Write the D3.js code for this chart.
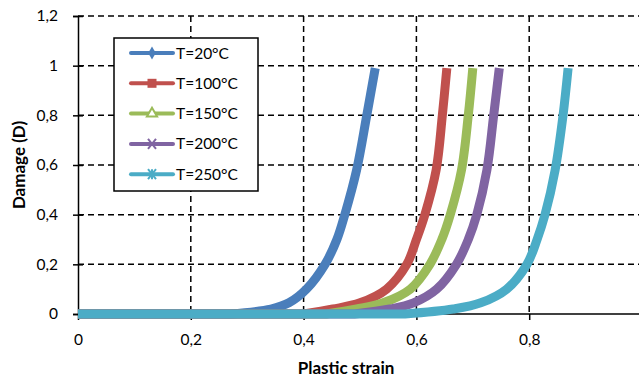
<!DOCTYPE html>
<html>
<head>
<meta charset="utf-8">
<script src="https://cdn.jsdelivr.net/npm/d3@7"></script>
<style>
  body { margin: 0; background: #fff; }
  svg text { font-family: Lato, "Open Sans", sans-serif; fill: #000; }
</style>
</head>
<body>
<div id="chart"></div>
<script>
// damage levels shared by every curve, strain read for each temperature
var damageLevels = [0, 0, 0.02, 0.045, 0.1, 0.2, 0.3, 0.4, 0.58, 0.8, 0.99]
var strain20  = [0, 0.27, 0.342, 0.374, 0.405, 0.438, 0.459, 0.473, 0.494, 0.512, 0.527]
var strain100 = [0, 0.40, 0.452, 0.500, 0.547, 0.583, 0.600, 0.615, 0.635, 0.646, 0.654]
var strain150 = [0, 0.44, 0.494, 0.541, 0.589, 0.624, 0.645, 0.660, 0.680, 0.692, 0.700]
var strain200 = [0, 0.49, 0.553, 0.595, 0.636, 0.671, 0.692, 0.707, 0.725, 0.737, 0.747]
var strain250 = [0, 0.58, 0.665, 0.714, 0.760, 0.796, 0.814, 0.828, 0.846, 0.860, 0.869]

var seriesNames = ["T=20°C", "T=100°C", "T=150°C", "T=200°C", "T=250°C"]
var seriesColors = ["#4a7ebb", "#c0504d", "#9bbb59", "#8064a2", "#4bacc6"]
var seriesMarkers = ["diamond", "square", "triangle", "x", "star"]
var strains = [strain20, strain100, strain150, strain200, strain250]

var xTicks = [0, 0.2, 0.4, 0.6, 0.8]
var yTicks = [0, 0.2, 0.4, 0.6, 0.8, 1, 1.2]

var width = 639, height = 379

var svg = d3.select("#chart").append("svg")
  .attr("width", width).attr("height", height)

var x = d3.scaleLinear().domain([0, 1]).range([78, 642])
var y = d3.scaleLinear().domain([0, 1.2]).range([314, 16])

var fmt = function(d){ return String(d).replace(".", ",") }

// grid (dashed)
svg.append("g").selectAll("line")
  .data(yTicks.filter(function(d){ return d > 0 }))
  .enter().append("line")
  .attr("x1", x(0)).attr("x2", width)
  .attr("y1", function(d){ return y(d) }).attr("y2", function(d){ return y(d) })
  .attr("stroke", "#000").attr("stroke-width", 1.5).attr("stroke-dasharray", "6,4")

svg.append("g").selectAll("line")
  .data(xTicks.filter(function(d){ return d > 0 }))
  .enter().append("line")
  .attr("x1", function(d){ return x(d) }).attr("x2", function(d){ return x(d) })
  .attr("y1", y(1.2)).attr("y2", y(0))
  .attr("stroke", "#000").attr("stroke-width", 1.5).attr("stroke-dasharray", "6,4")

// axes
var xAxis = svg.append("g")
  .attr("transform", "translate(0," + y(0) + ")")
  .call(d3.axisBottom(x).tickValues(xTicks).tickFormat(fmt).tickSize(6).tickPadding(14))
xAxis.select(".domain").attr("d", "M" + x(0) + ",0H" + width).attr("stroke-width", 1.5)
xAxis.selectAll(".tick line").attr("stroke-width", 1.5)
xAxis.selectAll("text").attr("font-size", 15.5).attr("font-family", "Lato, sans-serif")

var yAxis = svg.append("g")
  .attr("transform", "translate(" + x(0) + ",0)")
  .call(d3.axisLeft(y).tickValues(yTicks).tickFormat(fmt).tickSize(5).tickPadding(15))
yAxis.select(".domain").attr("stroke-width", 1.5)
yAxis.selectAll(".tick line").attr("x2", 5).attr("x1", -5).attr("stroke-width", 1.5)
yAxis.selectAll("text").attr("font-size", 15.5).attr("font-family", "Lato, sans-serif")

// curves: straight along D=0 up to onset, smooth rise after it
var rise = d3.line()
  .x(function(d){ return x(d[0]) })
  .y(function(d){ return y(d[1]) })
  .curve(d3.curveCatmullRom.alpha(0.5))

strains.forEach(function(s, i){
  var pts = s.map(function(v, j){ return [v, damageLevels[j]] })
  var flat = "M" + x(pts[0][0]) + "," + y(pts[0][1])
  var curve = rise(pts.slice(1)).replace(/^M/, "L")
  svg.append("path")
    .attr("d", flat + curve)
    .attr("fill", "none")
    .attr("stroke", seriesColors[i])
    .attr("stroke-width", 9)
    .attr("stroke-linejoin", "round")
})

// marker shapes
function marker(g, type, color){
  if (type == "diamond") {
    g.append("path").attr("d", d3.symbol(d3.symbolDiamond, 50)).attr("fill", color)
  } else if (type == "square") {
    g.append("rect").attr("x", -4.5).attr("y", -4.5).attr("width", 9).attr("height", 9).attr("fill", color)
  } else if (type == "triangle") {
    g.append("path").attr("d", d3.symbol(d3.symbolTriangle, 45)).attr("fill", "#fff")
      .attr("stroke", color).attr("stroke-width", 2)
  } else if (type == "x") {
    g.append("path").attr("d", "M-4,-5L4,5M-4,5L4,-5").attr("stroke", color).attr("stroke-width", 2)
  } else {
    g.append("path").attr("d", "M-4,-5L4,5M-4,5L4,-5M0,-5V5").attr("stroke", color).attr("stroke-width", 2)
  }
}

// legend
var legend = svg.append("g")
legend.append("rect")
  .attr("x", 114).attr("y", 38).attr("width", 144).attr("height", 153)
  .attr("fill", "#fff").attr("stroke", "#000").attr("stroke-width", 1.5)

seriesNames.forEach(function(name, i){
  var ly = 53 + i * 30.3
  legend.append("line")
    .attr("x1", 131).attr("x2", 173).attr("y1", ly).attr("y2", ly)
    .attr("stroke", seriesColors[i]).attr("stroke-width", 4).attr("stroke-linecap", "round")
  marker(legend.append("g").attr("transform", "translate(152," + ly + ")"), seriesMarkers[i], seriesColors[i])
  legend.append("text")
    .attr("x", 176).attr("y", ly + 5.5)
    .attr("font-size", 15.5)
    .text(name)
})

// axis titles
svg.append("text")
  .attr("x", 346).attr("y", 374)
  .attr("text-anchor", "middle")
  .attr("font-size", 17).attr("font-weight", "bold")
  .text("Plastic strain")

svg.append("text")
  .attr("transform", "translate(25,165) rotate(-90)")
  .attr("text-anchor", "middle")
  .attr("font-size", 17).attr("font-weight", "bold")
  .text("Damage (D)")
</script>
</body>
</html>
